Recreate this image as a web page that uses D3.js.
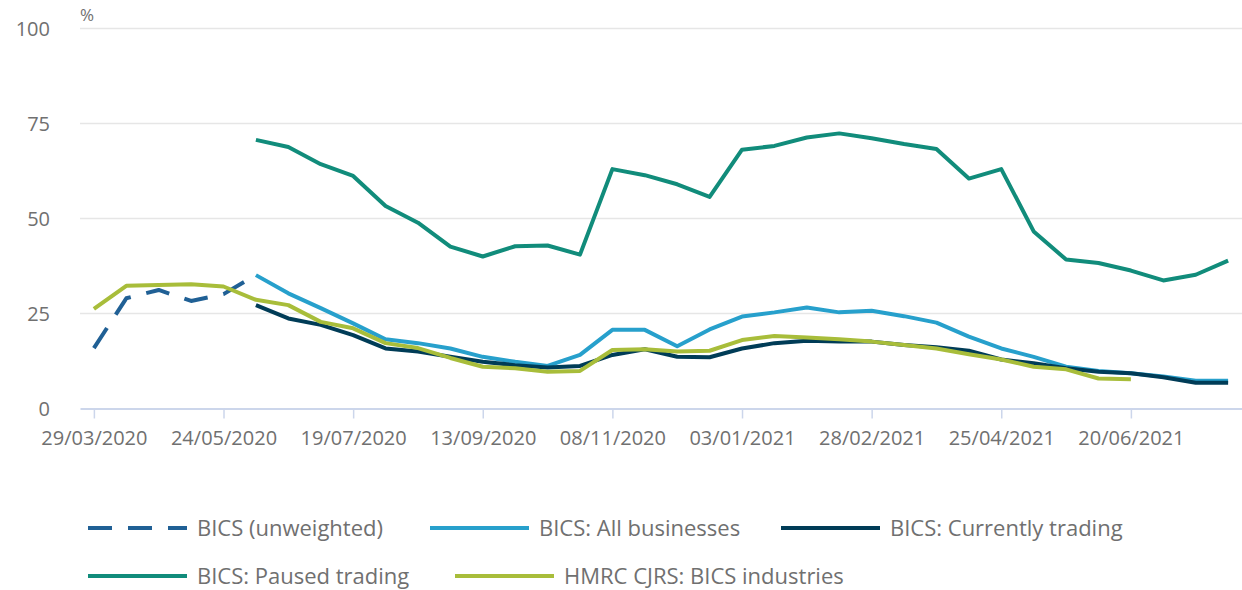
<!DOCTYPE html>
<html>
<head>
<meta charset="utf-8">
<script src="https://cdn.jsdelivr.net/npm/d3@7"></script>
<style>
  body { margin: 0; background: #fff; }
  text { font-family: "Open Sans", sans-serif; }
</style>
</head>
<body>
<svg id="chart" width="1242" height="590"></svg>
<script>
// fortnightly survey dates
let dates = ["29/03/2020", "12/04/2020", "26/04/2020", "10/05/2020", "24/05/2020", "07/06/2020",
    "21/06/2020", "05/07/2020", "19/07/2020", "02/08/2020", "16/08/2020", "30/08/2020",
    "13/09/2020", "27/09/2020", "11/10/2020", "25/10/2020", "08/11/2020", "22/11/2020",
    "06/12/2020", "20/12/2020", "03/01/2021", "17/01/2021", "31/01/2021", "14/02/2021",
    "28/02/2021", "14/03/2021", "28/03/2021", "11/04/2021", "25/04/2021", "09/05/2021",
    "23/05/2021", "06/06/2021", "20/06/2021", "04/07/2021", "18/07/2021", "01/08/2021"];

let xTicks = ["29/03/2020", "24/05/2020", "19/07/2020", "13/09/2020", "08/11/2020",
    "03/01/2021", "28/02/2021", "25/04/2021", "20/06/2021"];
let yTicks = [0, 25, 50, 75, 100];

let unweighted = [15.9, 29.0, 31.2, 28.3, 30.1, 35.1];
let allBusinesses = [null, null, null, null, null,
    35.1, 30.3, 26.4, 22.4, 18.2, 17.2, 15.8, 13.6, 12.3, 11.2, 14.1, 20.7, 20.7, 16.4, 20.8,
    24.2, 25.3, 26.6, 25.3, 25.7, 24.3, 22.6, 18.9, 15.8, 13.6, 11.0, 9.9, 9.3, 8.4, 7.3, 7.3];
let currentlyTrading = [null, null, null, null, null,
    27.2, 23.7, 22.0, 19.3, 15.8, 15.0, 13.6, 12.3, 11.4, 10.8, 11.2, 14.1, 15.6, 13.6, 13.5,
    15.8, 17.2, 17.8, 17.6, 17.6, 16.7, 16.1, 15.2, 12.9, 11.9, 10.6, 9.7, 9.3, 8.2, 6.8, 6.8];
let pausedTrading = [null, null, null, null, null,
    70.7, 68.8, 64.3, 61.2, 53.3, 48.9, 42.6, 40.0, 42.7, 42.9, 40.5, 63.0, 61.4, 59.0, 55.7,
    68.1, 69.1, 71.3, 72.4, 71.1, 69.6, 68.3, 60.5, 63.0, 46.6, 39.2, 38.3, 36.3, 33.7, 35.2, 38.9];
let hmrc = [26.2, 32.3, 32.5, 32.7, 32.1, 28.6, 27.2, 22.8, 21.1, 17.2, 15.9, 13.3, 11.0,
    10.6, 9.7, 9.9, 15.4, 15.6, 15.0, 15.2, 18.0, 19.1, 18.7, 18.2, 17.6, 16.7, 15.8, 14.3,
    12.9, 11.0, 10.3, 7.9, 7.7];

let seriesNames = ["BICS (unweighted)", "BICS: All businesses", "BICS: Currently trading",
    "BICS: Paused trading", "HMRC CJRS: BICS industries"];

let series = [
    { name: seriesNames[0], values: unweighted, color: "#206095", dash: "24,16" },
    { name: seriesNames[1], values: allBusinesses, color: "#27a0cc", dash: null },
    { name: seriesNames[2], values: currentlyTrading, color: "#003c57", dash: null },
    { name: seriesNames[3], values: pausedTrading, color: "#118c7b", dash: null },
    { name: seriesNames[4], values: hmrc, color: "#a8bd3a", dash: null }
];

let parseDate = d3.timeParse("%d/%m/%Y");

let svg = d3.select("#chart"),
    plotLeft = 80,
    plotRight = 1242,
    plotTop = 28.5,
    plotBottom = 408.5;

let x = d3.scaleTime()
    .domain([parseDate("23/03/2020"), parseDate("07/08/2021")])
    .range([plotLeft, plotRight]);
let y = d3.scaleLinear().domain([0, 100]).range([plotBottom, plotTop]);

// gridlines
svg.append("g")
    .selectAll("line")
    .data(yTicks.filter(function(d) { return d > 0; }))
    .enter().append("line")
    .attr("x1", plotLeft)
    .attr("x2", plotRight)
    .attr("y1", function(d) { return y(d); })
    .attr("y2", function(d) { return y(d); })
    .attr("stroke", "#e6e6e6")
    .attr("stroke-width", 1.5);

// y labels
svg.append("g")
    .selectAll("text")
    .data(yTicks)
    .enter().append("text")
    .attr("x", 50)
    .attr("y", function(d) { return y(d); })
    .attr("dy", "0.35em")
    .attr("text-anchor", "end")
    .attr("fill", "#707070")
    .attr("font-size", "20px")
    .text(function(d) { return d; });

svg.append("text")
    .attr("x", 80)
    .attr("y", 21)
    .attr("fill", "#707070")
    .attr("font-size", "17px")
    .text("%");

// x axis
let xAxis = svg.append("g")
    .attr("transform", "translate(0," + plotBottom + ")")
    .call(d3.axisBottom(x)
        .tickValues(xTicks.map(parseDate))
        .tickSize(10)
        .tickSizeOuter(0)
        .tickFormat(d3.timeFormat("%d/%m/%Y")));
xAxis.select(".domain").attr("stroke", "#ccd6eb").attr("stroke-width", 2);
xAxis.selectAll(".tick line").attr("stroke", "#ccd6eb").attr("stroke-width", 1.5);
xAxis.selectAll(".tick text")
    .attr("fill", "#707070")
    .attr("font-size", "20px")
    .attr("font-family", "Open Sans")
    .attr("y", 29)
    .attr("dy", "0.35em");

// lines
let line = d3.line()
    .defined(function(d) { return d != null; })
    .x(function(d, i) { return x(parseDate(dates[i])); })
    .y(function(d) { return y(d); });

svg.append("g")
    .selectAll("path")
    .data(series)
    .enter().append("path")
    .attr("d", function(s) { return line(s.values); })
    .attr("fill", "none")
    .attr("stroke", function(s) { return s.color; })
    .attr("stroke-width", 4)
    .attr("stroke-linejoin", "round")
    .attr("stroke-dasharray", function(s) { return s.dash; });

// legend
let legendPos = [[88, 528], [430, 528], [781, 528], [88, 576], [455, 576]];

let legend = svg.append("g")
    .selectAll("g")
    .data(series)
    .enter().append("g")
    .attr("transform", function(s, i) { return "translate(" + legendPos[i][0] + "," + legendPos[i][1] + ")"; });

legend.append("line")
    .attr("x1", 0)
    .attr("x2", 99)
    .attr("stroke", function(s) { return s.color; })
    .attr("stroke-width", 4)
    .attr("stroke-dasharray", function(s) { return s.dash; });

legend.append("text")
    .attr("x", 109)
    .attr("dy", "0.35em")
    .attr("fill", "#707070")
    .attr("font-size", "22px")
    .text(function(s) { return s.name; });
</script>
</body>
</html>
